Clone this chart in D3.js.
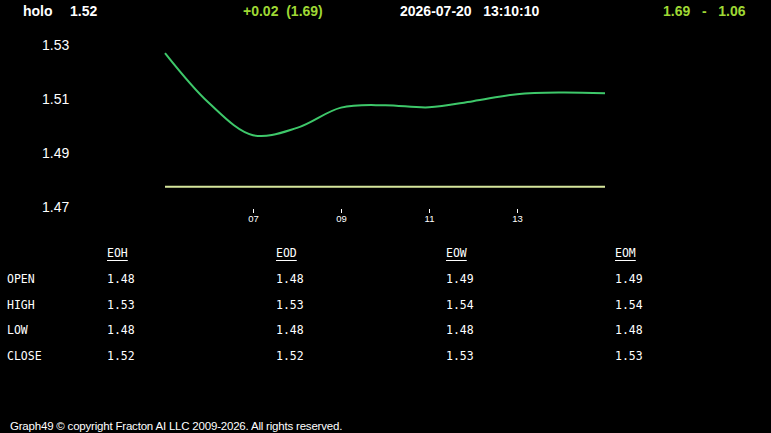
<!DOCTYPE html>
<html>
<head>
<meta charset="utf-8">
<script src="https://cdn.jsdelivr.net/npm/d3@7"></script>
<style>
  body { margin: 0; background: #000; }
  svg { display: block; }
</style>
</head>
<body>
<div id="graph"></div>
<script>
// price curve, one value per hour
var hours = [5, 6, 7, 8, 9, 10, 11, 12, 13, 14, 15];
var prices = [1.527, 1.5085, 1.4966, 1.4993, 1.5068, 1.5077, 1.5069, 1.5092, 1.5118, 1.5124, 1.5121];
var baseline = 1.4775;

var yTicks = [1.47, 1.49, 1.51, 1.53];
var xTicks = [7, 9, 11, 13];

// summary table
var columns = ["EOH", "EOD", "EOW", "EOM"];
var rowNames = ["OPEN", "HIGH", "LOW", "CLOSE"];
var eoh = ["1.48", "1.53", "1.48", "1.52"];
var eod = ["1.48", "1.53", "1.48", "1.52"];
var eow = ["1.49", "1.54", "1.48", "1.53"];
var eom = ["1.49", "1.54", "1.48", "1.53"];

var W = 771, H = 433;
var svg = d3.select("#graph").append("svg")
  .attr("width", W).attr("height", H)
  .style("background", "#000");

// header line
var head = svg.append("g")
  .attr("font-family", "Liberation Sans, Arial, sans-serif")
  .attr("font-weight", "bold")
  .attr("font-size", 14);
head.append("text").attr("x", 23).attr("y", 16).attr("fill", "#fff").text("holo");
head.append("text").attr("x", 70).attr("y", 16).attr("fill", "#fff").text("1.52");
head.append("text").attr("x", 243).attr("y", 16).attr("fill", "#9fd834")
  .attr("xml:space", "preserve").text("+0.02  (1.69)");
head.append("text").attr("x", 400).attr("y", 16).attr("fill", "#fff")
  .attr("xml:space", "preserve").text("2026-07-20   13:10:10");
head.append("text").attr("x", 663).attr("y", 16).attr("fill", "#9fd834")
  .attr("xml:space", "preserve").text("1.69   -   1.06");

// scales
var x = d3.scaleLinear().domain([5, 15]).range([165, 605]);
var y = d3.scaleLinear().domain([1.47, 1.53]).range([207, 45]);

// y labels
svg.append("g")
  .attr("font-family", "Liberation Sans, Arial, sans-serif")
  .attr("font-size", 14)
  .attr("fill", "#fff")
  .selectAll("text").data(yTicks).enter().append("text")
  .attr("x", 42)
  .attr("y", function (d) { return y(d) + 5; })
  .text(function (d) { return d3.format(".2f")(d); });

// x axis
var xAxis = svg.append("g")
  .attr("transform", "translate(0,209)")
  .call(d3.axisBottom(x).tickValues(xTicks).tickSize(4).tickPadding(2)
    .tickFormat(function (d) { return d3.format("02d")(d); }));
xAxis.select(".domain").remove();
xAxis.selectAll("line").attr("stroke", "#fff");
xAxis.selectAll("text").attr("fill", "#fff")
  .attr("font-family", "Liberation Sans, Arial, sans-serif")
  .attr("font-size", 9.5);

// baseline
svg.append("line")
  .attr("x1", x(5)).attr("x2", x(15))
  .attr("y1", y(baseline)).attr("y2", y(baseline))
  .attr("stroke", "#d6e69c").attr("stroke-width", 2);

// price line
svg.append("path")
  .datum(hours.map(function (h, i) { return { h: h, v: prices[i] }; }))
  .attr("fill", "none")
  .attr("stroke", "#3ec86a")
  .attr("stroke-width", 2)
  .attr("d", d3.line()
    .x(function (d) { return x(d.h); })
    .y(function (d) { return y(d.v); })
    .curve(d3.curveCatmullRom.alpha(0.5)));

// table
var colX = [107, 276, 446, 615];
var colVals = [eoh, eod, eow, eom];
var table = svg.append("g")
  .attr("font-family", "DejaVu Sans Mono, monospace")
  .attr("font-size", 11.5)
  .attr("fill", "#fff");
columns.forEach(function (c, i) {
  var t = table.append("text").attr("x", colX[i]).attr("y", 257).text(c);
  var w = t.node().getComputedTextLength();
  table.append("line")
    .attr("x1", colX[i]).attr("x2", colX[i] + w)
    .attr("y1", 260.5).attr("y2", 260.5)
    .attr("stroke", "#fff").attr("stroke-width", 1);
});
rowNames.forEach(function (r, j) {
  var yy = 283 + j * 25.7;
  table.append("text").attr("x", 7).attr("y", yy).text(r);
  colVals.forEach(function (vals, i) {
    table.append("text").attr("x", colX[i]).attr("y", yy).text(vals[j]);
  });
});

// footer
svg.append("text")
  .attr("x", 10).attr("y", 430)
  .attr("font-family", "Liberation Sans, Arial, sans-serif")
  .attr("font-size", 11.5)
  .attr("letter-spacing", -0.2)
  .attr("fill", "#fff")
  .text("Graph49 \u00a9 copyright Fracton AI LLC 2009-2026. All rights reserved.");
</script>
</body>
</html>
